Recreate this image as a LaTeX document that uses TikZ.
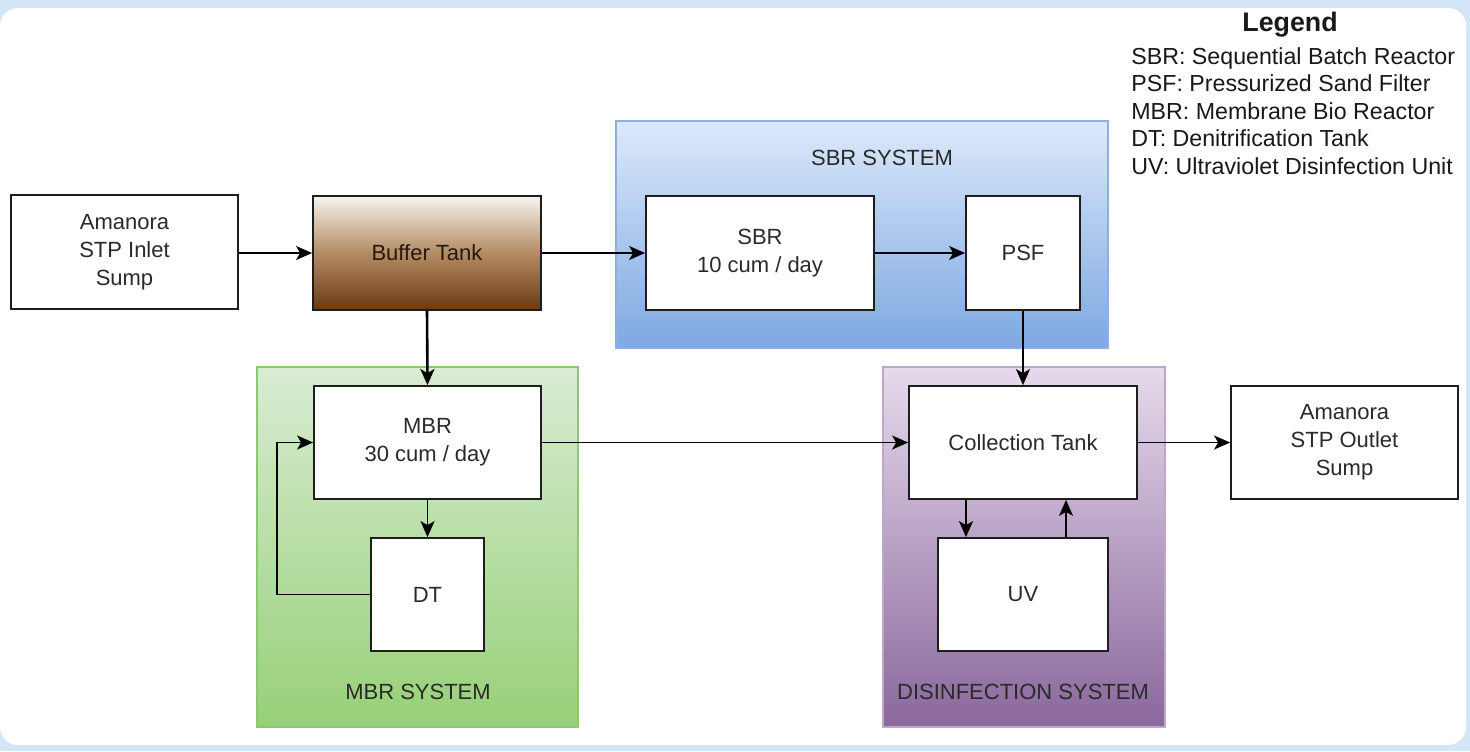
\documentclass[tikz,border=0pt]{standalone}
\usepackage{fontspec}
\setmainfont{Liberation Sans}
\usetikzlibrary{arrows.meta}
\definecolor{skyback}{HTML}{D3E6F7}
\definecolor{boxline}{HTML}{1E1E1E}
\definecolor{boxtext}{HTML}{2A2A2A}
\definecolor{sbrtop}{HTML}{DCE9FB}
\definecolor{sbrbot}{HTML}{7EA8E0}
\definecolor{sbredge}{HTML}{8DB0DE}
\definecolor{mbrtop}{HTML}{D8ECD3}
\definecolor{mbrbot}{HTML}{97D077}
\definecolor{mbredge}{HTML}{8CC774}
\definecolor{distop}{HTML}{E6DAEC}
\definecolor{disbot}{HTML}{8A679C}
\definecolor{disedge}{HTML}{BFA6CC}
\definecolor{buftop}{HTML}{F8F4F0}
\definecolor{bufmid}{HTML}{B48B63}
\definecolor{bufbot}{HTML}{6A3A10}
\begin{document}
\begin{tikzpicture}[x=0.5pt,y=-0.5pt,
  box/.style={draw=boxline, line width=0.9pt, fill=white, text=boxtext,
    font=\fontsize{11}{14}\selectfont, align=center, inner sep=0pt},
  system/.style={line width=0.6pt, inner sep=0pt},
  syslabel/.style={text=boxtext, font=\fontsize{11}{13}\selectfont},
  flow/.style={-{Stealth[length=8pt,width=7pt,inset=2pt]}, line width=0.8pt, draw=black},
  legendline/.style={anchor=base west, inner sep=0pt, text=black!90, font=\fontsize{11.6}{13.75}\selectfont}]

% page background and white panel
\useasboundingbox (0,0) rectangle (1470,751);
\fill[skyback] (0,0) rectangle (1470,751);
\fill[white, rounded corners=9pt] (0,8) rectangle (1466,745);

% system groups
\node[system, draw=sbredge, top color=sbrtop, bottom color=sbrbot,
  minimum width=246pt, minimum height=113.5pt] (sbrsys) at (862,234.5) {};
\node[system, draw=mbredge, top color=mbrtop, bottom color=mbrbot,
  minimum width=160.5pt, minimum height=180pt] (mbrsys) at (417.5,547) {};
\node[system, draw=disedge, top color=distop, bottom color=disbot,
  minimum width=141pt, minimum height=180pt] (dissys) at (1024,547) {};

\node[syslabel] (sbrlab) at (882,158) {SBR SYSTEM};
\node[syslabel] (mbrlab) at (418,692) {MBR SYSTEM};
\node[syslabel] (dislab) at (1023,692) {DISINFECTION SYSTEM};

% process units
\node[box, minimum width=113.5pt, minimum height=57pt] (inlet) at (124.5,252)
  {Amanora\\STP Inlet\\Sump};
\node[box, fill=none, top color=buftop, bottom color=bufbot, middle color=bufmid,
  text=black!80!brown, minimum width=114pt, minimum height=57pt] (buffer) at (427,253)
  {Buffer Tank};
\node[box, minimum width=114pt, minimum height=57pt] (sbr) at (760,253)
  {SBR\\10 cum / day};
\node[box, minimum width=57pt, minimum height=57pt] (psf) at (1023,253) {PSF};
\node[box, minimum width=113.5pt, minimum height=56.5pt] (mbr) at (427.5,442.5)
  {MBR\\30 cum / day};
\node[box, minimum width=56.5pt, minimum height=56.5pt] (dt) at (427.5,594.5) {DT};
\node[box, minimum width=114pt, minimum height=56.5pt] (coll) at (1023,442.5)
  {Collection Tank};
\node[box, minimum width=85pt, minimum height=56.5pt] (uv) at (1023,594.5) {UV};
\node[box, minimum width=113.5pt, minimum height=56.5pt] (outlet) at (1344.5,442.5)
  {Amanora\\STP Outlet\\Sump};

% flows
\draw[flow] (inlet.east |- 0,253) -- (buffer.west);
\draw[flow] (buffer.east) -- (sbr.west);
\draw[flow] (sbr.east) -- (psf.west);
\draw[flow] (psf.south) -- (coll.north);
\draw[flow, line width=1.3pt] (buffer.south) -- (mbr.north);
\draw[flow] (mbr.east) -- (coll.west);
\draw[flow] (mbr.south) -- (dt.north);
\coordinate (loop) at (277,594.5);
\draw[flow] (dt.west) -- (loop) |- (mbr.west);
\draw[flow] (coll.south -| 966,0) -- (uv.north -| 966,0);
\draw[flow] (uv.north -| 1066,0) -- (coll.south -| 1066,0);
\draw[flow] (coll.east) -- (outlet.west);

% legend
\node[font=\bfseries\fontsize{13.4}{16}\selectfont, text=black!90] (legtitle) at (1290,25) {Legend};
\node[legendline] (leg1) at (1131,64) {SBR: Sequential Batch Reactor};
\node[legendline] (leg2) at (1131,91.5) {PSF: Pressurized Sand Filter};
\node[legendline] (leg3) at (1131,119) {MBR: Membrane Bio Reactor};
\node[legendline] (leg4) at (1131,146.5) {DT: Denitrification Tank};
\node[legendline] (leg5) at (1131,174) {UV: Ultraviolet Disinfection Unit};
\end{tikzpicture}
\end{document}
